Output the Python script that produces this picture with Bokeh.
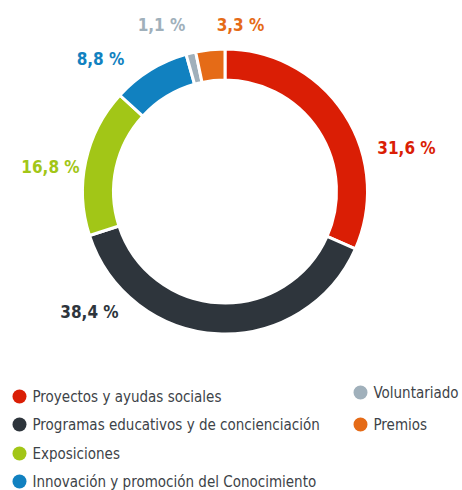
import numpy as np
from bokeh.plotting import figure
from bokeh.models import ColumnDataSource, Range1d
from bokeh.core.properties import value
from bokeh.embed import file_html
from bokeh.resources import INLINE

# ---- data ----
categories = ["Proyectos y ayudas sociales",
              "Programas educativos y de concienciación",
              "Exposiciones",
              "Innovación y promoción del Conocimiento",
              "Voluntariado",
              "Premios"]
shares = [31.6, 38.4, 16.8, 8.8, 1.1, 3.3]
labels = ["31,6 %", "38,4 %", "16,8 %", "8,8 %", "1,1 %", "3,3 %"]
colors = ["#DA1E05", "#2E353C", "#A2C617", "#1181C0", "#A0B0BB", "#E56B17"]

# ---- layout (pixels) ----
W, H = 462, 490
def py(pagey):
    return H - pagey
def px(pagex):
    return pagex

FONT = "DejaVu Sans Condensed, Roboto, sans-serif"

cx, cy = px(224.5), py(191)
r_out, r_in = 142.5, 111.5
label_x = [px(v) for v in [406, 89, 50, 100, 161, 240]]
label_y = [py(v) for v in [147, 311, 166, 58, 24, 24]]
leg_x = [px(v) for v in [19, 19, 19, 19, 360, 360]]
leg_y = [py(v) for v in [396, 424, 453, 481, 392, 424]]

frac = np.array(shares) / sum(shares)
cum = np.concatenate([[0], np.cumsum(frac)])
start = np.pi / 2 - 2 * np.pi * cum[:-1]
end = np.pi / 2 - 2 * np.pi * cum[1:]

src = ColumnDataSource(dict(start=start, end=end, color=colors,
                            lx=label_x, ly=label_y, label=labels,
                            gx=leg_x, gy=leg_y, tx=[x + 13 for x in leg_x],
                            name=categories))

p = figure(width=W, height=H, output_backend="svg", toolbar_location=None,
           x_range=Range1d(0, W), y_range=Range1d(0, H),
           min_border=0, outline_line_color=None)
p.axis.visible = False
p.grid.visible = False

p.annular_wedge(x=cx, y=cy, inner_radius=r_in, outer_radius=r_out,
                start_angle="start", end_angle="end", direction="clock",
                fill_color="color", line_color="white", line_width=3,
                source=src)

p.text(x="lx", y="ly", text="label", text_color="color",
       text_font=value(FONT), text_font_style="bold",
       text_font_size="17px", text_align="center", text_baseline="middle",
       source=src)

p.scatter(x="gx", y="gy", size=14, fill_color="color", line_color=None,
          source=src)
p.text(x="tx", y="gy", text="name", text_color="#3D4348",
       text_font=value(FONT), text_font_size="15px",
       text_align="left", text_baseline="middle", source=src)

open("out.html", "w").write(file_html(p, INLINE))
